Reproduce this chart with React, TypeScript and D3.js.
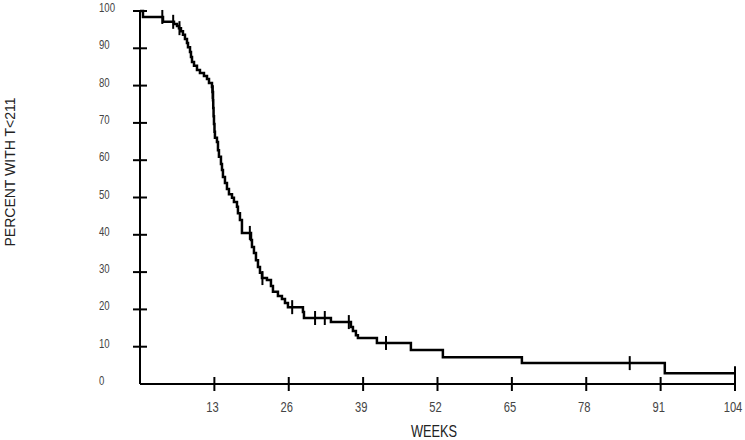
import { useEffect, useRef } from 'react';
import * as d3 from 'd3';

// Kaplan-Meier step points
const eventWeeks = [
  0, 0.52, 4.02, 5.94, 6.47, 6.81, 7.16, 7.51, 7.86, 8.21, 8.39, 8.74, 8.91, 9.09, 9.44, 9.96,
  10.48, 11.18, 11.71, 12.06, 12.58, 12.67, 12.76, 12.8, 12.86, 12.93, 13.02, 13.1, 13.45, 13.63,
  13.8, 14.15, 14.33, 14.5, 14.85, 15.2, 15.55, 16.08, 16.42, 16.95, 17.12, 17.47, 17.82, 19.4,
  19.57, 19.92, 20.27, 20.62, 20.97, 21.32, 22.19, 22.89, 23.24, 24.11, 24.81, 25.34, 25.86,
  28.48, 28.66, 33.37, 36.87, 37.22, 37.74, 38.09, 41.41, 47.35, 52.94, 66.75, 91.73,
];
const survival = [
  100, 98.4, 97.1, 96.5, 96.0, 95.4, 94.6, 93.6, 92.5, 91.4, 90.3, 89.0, 87.7, 86.3, 85.3, 84.2,
  83.4, 82.6, 81.8, 80.7, 79.6, 78.3, 76.1, 74.0, 71.8, 69.7, 67.6, 66.0, 64.9, 62.7,
  60.9, 59.0, 57.4, 55.5, 53.9, 52.3, 50.9, 49.9, 48.8, 47.5, 45.8, 44.0, 40.5, 38.6,
  36.7, 35.1, 33.2, 31.4, 29.8, 28.4, 27.9, 26.3, 24.7, 23.6, 22.8, 21.7, 20.6,
  19.3, 17.7, 16.6, 15.3, 14.2, 13.1, 12.3, 11.0, 9.1, 7.2, 5.6, 2.9,
];
const censorWeeks = [3.9, 5.8, 6.9, 12.7, 19.2, 21.4, 26.6, 30.6, 32.3, 36.5, 43.0, 85.6, 104];

const xTicks = [13, 26, 39, 52, 65, 78, 91, 104];
const yTicks = [0, 10, 20, 30, 40, 50, 60, 70, 80, 90, 100];

const width = 745;
const height = 440;

const App = () => {
  const svgRef = useRef<SVGSVGElement | null>(null);

  useEffect(() => {
    const svg = d3.select(svgRef.current);
    svg.selectAll('*').remove();

    const x = d3.scaleLinear().domain([0, 104]).range([140, 735]);
    const y = d3.scaleLinear().domain([0, 100]).range([384, 11]);

    // narrow look: Liberation Sans squeezed horizontally
    const font = '"Liberation Sans", Arial, sans-serif';
    const squeeze = 0.8;

    svg.append('rect').attr('width', width).attr('height', height).attr('fill', '#fff');

    const axes = svg.append('g').attr('stroke', '#000').attr('stroke-width', 2);

    // y axis line and ticks
    axes.append('line')
      .attr('x1', x(0)).attr('x2', x(0))
      .attr('y1', y(100)).attr('y2', y(0));
    axes.selectAll('.ytick')
      .data(yTicks.filter(d => d > 0))
      .enter()
      .append('line')
      .attr('x1', x(0) - 7).attr('x2', x(0) + 7)
      .attr('y1', d => y(d)).attr('y2', d => y(d));

    // x axis line and ticks
    axes.append('line')
      .attr('x1', x(0)).attr('x2', x(104))
      .attr('y1', y(0)).attr('y2', y(0));
    axes.selectAll('.xtick')
      .data(xTicks)
      .enter()
      .append('line')
      .attr('x1', d => x(d)).attr('x2', d => x(d))
      .attr('y1', y(0) - 7).attr('y2', y(0) + 7);

    // tick labels
    svg.append('g')
      .selectAll('text')
      .data(yTicks)
      .enter()
      .append('text')
      .attr('transform', d => `translate(99,${y(d) + 1}) scale(${squeeze},1)`)
      .style('font-family', font)
      .style('font-size', '12px')
      .style('fill', '#444')
      .text(d => d);

    svg.append('g')
      .selectAll('text')
      .data(xTicks)
      .enter()
      .append('text')
      .attr('transform', d => `translate(${x(d) - 2},412) scale(${squeeze},1)`)
      .attr('text-anchor', 'middle')
      .style('font-family', font)
      .style('font-size', '14px')
      .style('fill', '#444')
      .text(d => d);

    // axis titles
    svg.append('text')
      .attr('transform', `translate(434,437) scale(${squeeze},1)`)
      .attr('text-anchor', 'middle')
      .style('font-family', font)
      .style('font-size', '16px')
      .style('fill', '#222')
      .text('WEEKS');

    svg.append('text')
      .attr('transform', 'translate(15,172) rotate(-90)')
      .attr('text-anchor', 'middle')
      .style('font-family', font)
      .style('font-size', '14px')
      .style('fill', '#222')
      .text('PERCENT WITH T<211');

    // survival curve
    const pts: [number, number][] = eventWeeks.map((w, i) => [w, survival[i]]);
    pts.push([104, survival[survival.length - 1]]);

    const line = d3.line<[number, number]>()
      .x(d => x(d[0]))
      .y(d => y(d[1]))
      .curve(d3.curveStepAfter);

    svg.append('path')
      .datum(pts)
      .attr('d', line)
      .attr('fill', 'none')
      .attr('stroke', '#000')
      .attr('stroke-width', 2.5);

    // censor marks
    const levelAt = (t: number) => {
      const i = d3.bisectRight(eventWeeks, t) - 1;
      return survival[Math.max(0, i)];
    };

    svg.append('g')
      .selectAll('line')
      .data(censorWeeks)
      .enter()
      .append('line')
      .attr('x1', d => x(d)).attr('x2', d => x(d))
      .attr('y1', d => y(levelAt(d)) - 7)
      .attr('y2', d => y(levelAt(d)) + 7)
      .attr('stroke', '#000')
      .attr('stroke-width', 2);
  }, []);

  return <svg ref={svgRef} width={width} height={height} style={{ display: 'block', position: 'absolute', left: 0, top: 0 }} />;
};

export default App;
